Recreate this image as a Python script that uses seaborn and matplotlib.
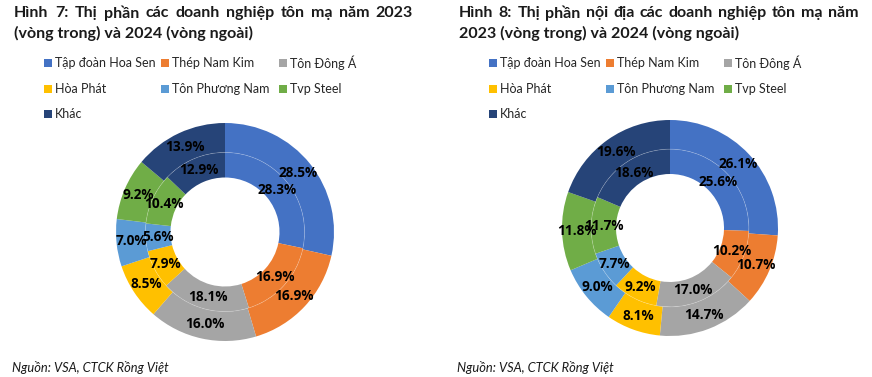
import matplotlib
matplotlib.use("Agg")
import numpy as np
import pandas as pd
import seaborn as sns
import matplotlib.pyplot as plt
from matplotlib.patches import Rectangle, Circle

# ---------------- data ----------------
companies = ["Tập đoàn Hoa Sen", "Thép Nam Kim", "Tôn Đông Á", "Hòa Phát",
             "Tôn Phương Nam", "Tvp Steel", "Khác"]
share_2023_total = [28.3, 16.9, 18.1, 7.9, 5.6, 10.4, 12.9]
share_2024_total = [28.5, 16.9, 16.0, 8.5, 7.0, 9.2, 13.9]
share_2023_domestic = [25.6, 10.2, 17.0, 9.2, 7.7, 11.7, 18.6]
share_2024_domestic = [26.1, 10.7, 14.7, 8.1, 9.0, 11.8, 19.6]
title_1 = ["Hình 7: Thị phần các doanh nghiệp tôn mạ năm 2023",
           "(vòng trong) và 2024 (vòng ngoài)"]
title_2 = ["Hình 8: Thị phần nội địa các doanh nghiệp tôn mạ năm",
           "2023 (vòng trong) và 2024 (vòng ngoài)"]
source_text = "Nguồn: VSA, CTCK Rồng Việt"

colors = ["#4472C4", "#ED7D31", "#A5A5A5", "#FFC000", "#5B9BD5", "#70AD47", "#264478"]

sns.set_theme(style="white")
plt.rcParams['font.family'] = ['Lato', 'DejaVu Sans']
palette = sns.color_palette(colors)

W, H = 872, 377
fig = plt.figure(figsize=(W / 100, H / 100), dpi=100)
fig.patch.set_facecolor("white")


def fx(x):
    return x / W


def fy(y):
    return 1 - y / H


def justified_line(x0, x1, y, text, **kw):
    words = text.split(" ")
    fig.canvas.draw()
    r = fig.canvas.get_renderer()
    objs = [fig.text(0, fy(y), w, va="center", ha="left", **kw) for w in words]
    widths = [o.get_window_extent(r).width for o in objs]
    gap = (x1 - x0 - sum(widths)) / (len(words) - 1)
    x = x0
    for o, w in zip(objs, widths):
        o.set_x(fx(x))
        x += w + gap


def draw_panel(x0, titles, justify_end, outer, inner, cx, cy, rad):
    tkw = dict(fontsize=11.5, fontweight="bold", color="#1a1a1a")
    justified_line(x0, justify_end, 13, titles[0], **tkw)
    fig.text(fx(x0), fy(33), titles[1], va="center", ha="left", **tkw)

    # legend (3 columns, Office-like layout)
    col_x = [x0 + 30, x0 + 147, x0 + 265]
    row_y = [63, 89, 114]
    for i, name in enumerate(companies):
        c, rw = i % 3, i // 3
        sx, sy = col_x[c], row_y[rw]
        fig.patches.append(Rectangle((fx(sx), fy(sy + 4)), 8 / W, 8 / H,
                                     transform=fig.transFigure, color=palette[i],
                                     lw=0))
        fig.text(fx(sx + 11), fy(sy), name, va="center", ha="left",
                 fontsize=9, color="#262626")

    ax = fig.add_axes([fx(cx - rad), fy(cy + rad), 2 * rad / W, 2 * rad / H])
    r_out, w_out = 1.0, 0.27
    r_in, w_in = 0.73, 0.23
    it_out = iter([f"{v:.1f}%" for v in outer])
    it_in = iter([f"{v:.1f}%" for v in inner])
    wk = dict(linewidth=0)
    tp = dict(fontsize=9.8, fontweight="bold", color="black", family=["Open Sans", "DejaVu Sans"])
    ax.pie(outer, radius=r_out, colors=palette, startangle=90, counterclock=False,
           wedgeprops=dict(width=w_out, **wk), autopct=lambda p: next(it_out),
           pctdistance=(r_out - w_out / 2) / r_out, textprops=tp)
    ax.pie(inner, radius=r_in, colors=palette, startangle=90, counterclock=False,
           wedgeprops=dict(width=w_in, **wk), autopct=lambda p: next(it_in),
           pctdistance=(r_in - w_in / 2) / r_in, textprops=tp)
    ax.add_patch(Circle((0, 0), r_in, fill=False, ec="white", lw=0.5, alpha=0.25))
    ax.set_xlim(-1, 1)
    ax.set_ylim(-1, 1)
    ax.set_aspect("equal")
    ax.axis("off")

    fig.text(fx(x0 - 2), fy(367), source_text, va="center", ha="left",
             fontsize=9.3, style="italic", color="#1a1a1a")


draw_panel(14, title_1, 413, share_2024_total, share_2023_total, 225, 232, 109)
draw_panel(459, title_2, 858, share_2024_domestic, share_2023_domestic, 670, 228, 108)

fig.savefig("out.png", dpi=100, facecolor="white")
